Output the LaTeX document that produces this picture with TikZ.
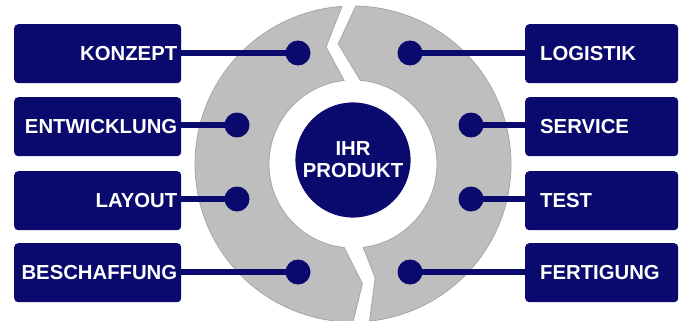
\documentclass[tikz,border=0pt]{standalone}
\usepackage{fontspec}
\setmainfont{Liberation Sans}
\definecolor{navy}{RGB}{10,10,110}
\definecolor{ringgray}{RGB}{190,190,190}
\begin{document}
\begin{tikzpicture}[x=1pt,y=1pt,
  lbox/.style={fill=navy,rounded corners=4pt,minimum height=59pt,text=white,
    font=\fontsize{20.3}{24}\selectfont\bfseries,anchor=north west},
  leftbox/.style={lbox,text width=159pt,inner xsep=4pt,align=right},
  rightbox/.style={lbox,text width=123pt,inner xsep=15pt,align=left},
  dotnode/.style={circle,fill=navy,minimum size=25pt,inner sep=0pt},
  conn/.style={draw=navy,line width=5.5pt},
  segment/.style={fill=ringgray,draw=black!35,line width=0.8pt,line join=round}]
\useasboundingbox (0,0) rectangle (680,-321);
% ring segments
\begin{scope}[shift={(353,-164)}]
  \path[segment] (94:158) arc[start angle=94,end angle=270,radius=158]
     -- (274.5:120) -- (264:84) arc[start angle=264,end angle=96,radius=84]
     -- (103:120) -- cycle;
  \path[segment] (276:158) arc[start angle=276,end angle=449,radius=158]
     -- (457:121) -- (445:84) arc[start angle=445,end angle=277,radius=84]
     -- (281:116) -- cycle;
\end{scope}
% center
\node[circle,fill=navy,minimum size=114pt,text=white,align=center,
  font=\fontsize{20.3}{22}\selectfont\bfseries] (prod) at (353,-160) {IHR\\PRODUKT};
% boxes
\node[leftbox] (konzept) at (14,-24) {KONZEPT};
\node[leftbox] (entw) at (14,-97) {ENTWICKLUNG};
\node[leftbox] (layout) at (14,-171) {LAYOUT};
\node[leftbox] (besch) at (14,-243) {BESCHAFFUNG};
\node[rightbox] (logistik) at (525,-24) {LOGISTIK};
\node[rightbox] (service) at (525,-97) {SERVICE};
\node[rightbox] (test) at (525,-171) {TEST};
\node[rightbox] (fert) at (525,-243) {FERTIGUNG};
% dots
\coordinate (c1) at (298,-53);
\coordinate (c2) at (237,-125);
\coordinate (c3) at (237,-199);
\coordinate (c4) at (298,-272);
\coordinate (c5) at (410,-53);
\coordinate (c6) at (471,-125);
\coordinate (c7) at (471,-199);
\coordinate (c8) at (410,-272);
\draw[conn] (c1 -| konzept.east) -- (c1);
\draw[conn] (c2 -| entw.east) -- (c2);
\draw[conn] (c3 -| layout.east) -- (c3);
\draw[conn] (c4 -| besch.east) -- (c4);
\draw[conn] (c5 -| logistik.west) -- (c5);
\draw[conn] (c6 -| service.west) -- (c6);
\draw[conn] (c7 -| test.west) -- (c7);
\draw[conn] (c8 -| fert.west) -- (c8);
\node[dotnode] (d1) at (c1) {};
\node[dotnode] (d2) at (c2) {};
\node[dotnode] (d3) at (c3) {};
\node[dotnode] (d4) at (c4) {};
\node[dotnode] (d5) at (c5) {};
\node[dotnode] (d6) at (c6) {};
\node[dotnode] (d7) at (c7) {};
\node[dotnode] (d8) at (c8) {};
\end{tikzpicture}
\end{document}
